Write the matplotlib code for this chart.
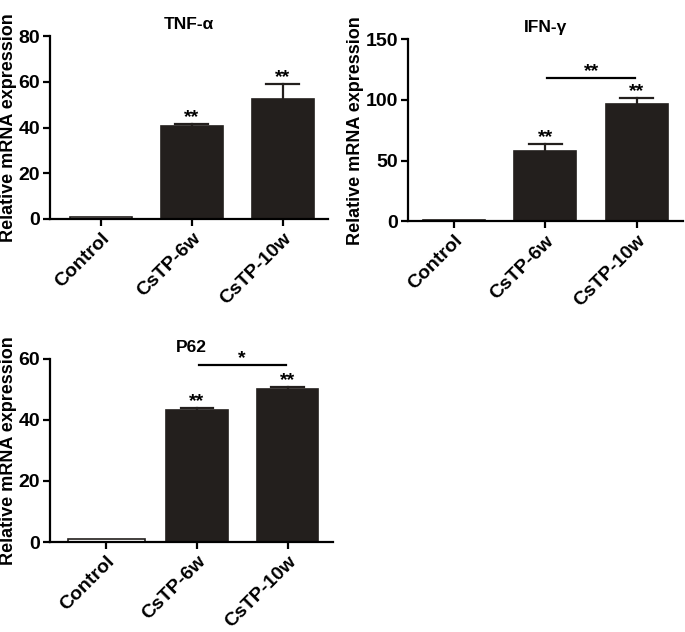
import matplotlib.pyplot as plt

plt.rcParams['font.family'] = ['Liberation Sans', 'DejaVu Sans']
plt.rcParams['font.weight'] = 'bold'

groups = ["Control", "CsTP-6w", "CsTP-10w"]

tnf_mean = [1.0, 40.8, 52.5]
tnf_err = [0.0, 0.6, 6.4]
tnf_stars = ["", "**", "**"]

ifn_mean = [1.0, 57.8, 96.6]
ifn_err = [0.0, 5.8, 5.0]
ifn_stars = ["", "**", "**"]

p62_mean = [1.0, 43.3, 50.1]
p62_err = [0.0, 0.7, 0.7]
p62_stars = ["", "**", "**"]

BAR = "#231f1d"

fig = plt.figure(figsize=(6.85, 6.32), dpi=100)


def panel(rect, title, mean, err, stars, ymax, ystep, xlim, bracket=None, ctrl_w=0.68):
    ax = fig.add_axes(rect)
    x = range(len(groups))
    widths = [ctrl_w] + [0.68] * (len(groups) - 1)
    cols = ["white"] + [BAR] * (len(groups) - 1)
    ax.bar(x, mean, width=widths, color=cols, edgecolor=BAR, linewidth=1.2, zorder=2)
    for i in x:
        if err[i] > 0:
            top = mean[i] + err[i]
            ax.plot([i, i], [mean[i], top], color=BAR, lw=1.6, zorder=1)
            ax.plot([i - 0.18, i + 0.18], [top, top], color=BAR, lw=1.6, zorder=1)
        if stars[i]:
            ax.text(i, mean[i] + err[i] - ymax * 0.01, stars[i], ha="center", va="bottom",
                    fontsize=14, fontweight="bold")
    if bracket:
        a, b, yb, s = bracket
        ax.plot([a + 0.02, b - 0.02], [yb, yb], color="black", lw=1.6)
        ax.text((a + b) / 2, yb - ymax * 0.01, s, ha="center", va="bottom",
                fontsize=14, fontweight="bold")
    ax.set_ylim(0, ymax)
    ax.set_xlim(*xlim)
    ax.set_yticks(range(0, ymax + 1, ystep))
    ax.set_xticks(list(x))
    ax.set_xticklabels(groups, rotation=45, ha="right", rotation_mode="anchor",
                       fontsize=14, fontweight="bold")
    ax.tick_params(axis="y", labelsize=14, width=1.6, length=5, pad=2)
    ax.tick_params(axis="x", width=1.6, length=5, pad=3)
    for lab in ax.get_yticklabels():
        lab.set_fontweight("bold")
    for s in ["top", "right"]:
        ax.spines[s].set_visible(False)
    for s in ["left", "bottom"]:
        ax.spines[s].set_linewidth(1.6)
    ax.set_ylabel("Relative mRNA expression", fontsize=13, fontweight="bold", labelpad=1)
    ax.set_title(title, fontsize=12.5, fontweight="bold", pad=5)
    return ax


panel([0.073, 0.6535, 0.406, 0.2895], "TNF-α", tnf_mean, tnf_err, tnf_stars,
      80, 20, (-0.56, 2.5))
panel([0.5956, 0.650, 0.401, 0.288], "IFN-γ", ifn_mean, ifn_err, ifn_stars,
      150, 50, (-0.5, 2.5), bracket=(1, 2, 118, "**"))
panel([0.073, 0.1424, 0.413, 0.2896], "P62", p62_mean, p62_err, p62_stars,
      60, 20, (-0.62, 2.5), bracket=(1, 2, 58, "*"), ctrl_w=0.85)

fig.savefig("out.png", dpi=100)
